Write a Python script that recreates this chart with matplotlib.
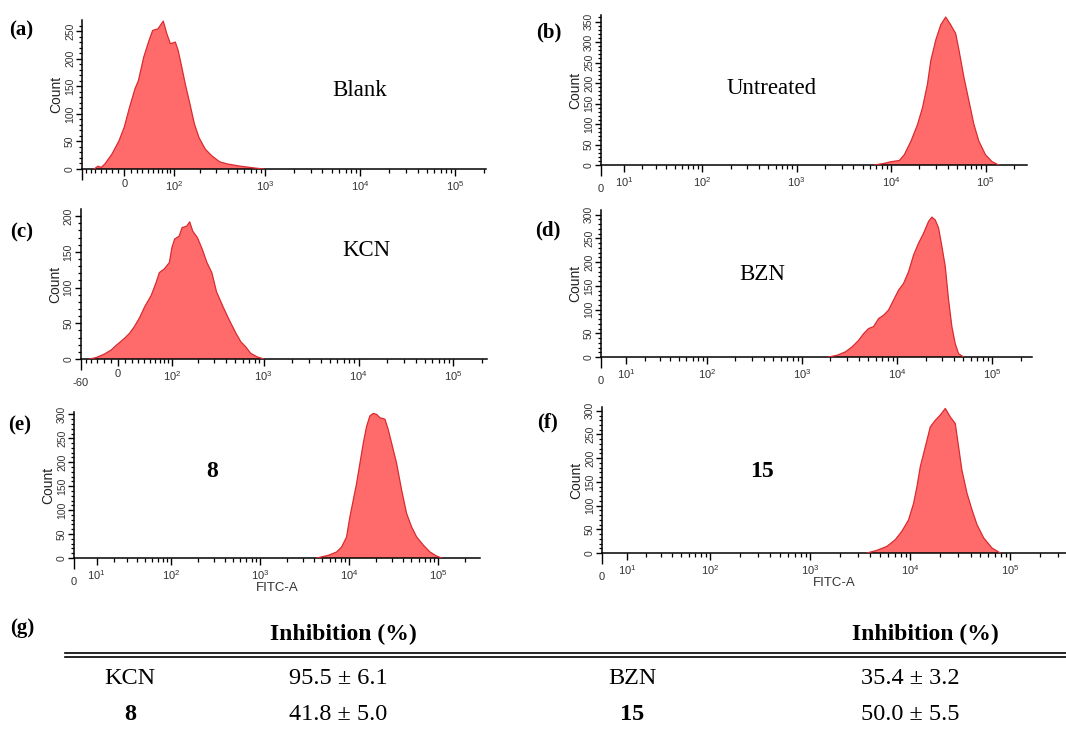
import numpy as np
import matplotlib
matplotlib.use("Agg")
import matplotlib.pyplot as plt

plt.rcParams['font.family'] = ['Liberation Sans', 'DejaVu Sans']
plt.rcParams['mathtext.fontset'] = 'custom'
plt.rcParams['mathtext.rm'] = 'Liberation Sans'
plt.rcParams['mathtext.it'] = 'Liberation Sans'

W, H = 1066, 734
FILL = '#FF6B6B'
EDGE = '#D92B30'
SERIF = ['Liberation Serif', 'DejaVu Serif']

# ---- histogram outlines (FITC-A value, count) ----
blank_x = [-52.5, -45, -38.7, -32.3, -20, -8.5, 0, 8.5, 17.2, 23, 32.3, 42, 49, 60, 72,
           80.7, 90, 104, 112.6, 122, 137, 155, 174, 196, 230, 270, 329, 401, 551, 757, 962]
blank_y = [0, 5, 3, 9, 27, 51, 76, 112, 145, 160, 203, 233, 251, 254, 268,
           245, 227, 230, 215, 191, 154, 118, 82, 57, 36, 24, 13, 9, 5, 2, 0]

untreated_x = [6630, 8480, 10000, 12240, 13810, 16240, 19090, 21540, 24320, 26370, 29760, 33600,
               37900, 42800, 48300, 52400, 59100, 66800, 75400, 85100, 100000, 117500, 138000]
untreated_y = [0, 4, 8, 11, 25, 58, 99, 140, 198, 255, 305, 342,
               361, 342, 321, 280, 214, 156, 99, 58, 25, 8, 0]

kcn_x = [-43, -32, -19, -9.5, -2.4, 2.4, 9.5, 16.8, 24.4, 32.2, 40.5, 52.3, 62, 69, 80, 93, 100, 108,
         122, 132, 149, 161, 174, 196, 221, 249, 281, 316, 371, 434, 509, 574, 646, 728, 853, 1000]
kcn_y = [0, 2, 7, 12.5, 19, 23, 29, 36, 46, 58, 73, 89, 107, 121, 126, 135, 156, 168,
         172, 184, 186, 192, 179, 170, 154, 135, 121, 94, 73, 54, 36, 24, 17, 8, 3, 0]

bzn_x = [1909, 2336, 2858, 3360, 3950, 4457, 5033, 5680, 6412, 7238, 8170, 9223, 10410, 11750, 13270,
         14980, 16900, 19090, 21540, 23360, 25320, 27460, 29760, 32270, 35000, 37900, 41100, 44570, 50330]
bzn_y = [0, 3.5, 10.6, 21, 35, 49, 60, 64, 81, 88, 99, 120, 141, 155, 180,
         215, 240, 261, 286, 295, 289, 272, 233, 191, 120, 64, 28, 7, 0]

c8_x = [4310, 5820, 7220, 8210, 9330, 10170, 11090, 12090, 13180, 14370, 15660, 17070, 18600, 20280,
        22110, 25160, 27420, 29900, 34000, 38730, 44100, 50100, 57100, 67800, 80600, 95800, 109000]
c8_y = [0, 5.6, 12.6, 23, 44, 86, 121, 156, 198, 240, 275, 297, 302, 300,
        293, 290, 268, 240, 198, 142, 93, 65, 44, 27, 12.6, 4, 0]

c15_x = [3690, 4640, 5840, 7080, 8250, 9620, 10800, 11660, 12590, 14130, 15850, 17780, 19950, 22390,
         25120, 28180, 30400, 32800, 36900, 41400, 46400, 54100, 65600, 79400]
c15_y = [0, 5.6, 14, 28, 46, 70, 105, 140, 182, 224, 266, 280, 291, 305,
         287, 273, 224, 175, 126, 91, 60, 32, 10.5, 0]

# ---- table (g) ----
row_names = [('KCN', 'normal'), ('8', 'bold')]
row_vals = ['95.5 ± 6.1', '41.8 ± 5.0']
row_names2 = [('BZN', 'normal'), ('15', 'bold')]
row_vals2 = ['35.4 ± 3.2', '50.0 ± 5.5']

fig = plt.figure(figsize=(W / 100, H / 100), dpi=100)


def rect(l, r, base, top):
    return [l / W, 1 - base / H, (r - l) / W, (base - top) / H]


def biex(c):
    return (lambda v: np.arcsinh(np.asarray(v, float) / c),
            lambda u: c * np.sinh(np.asarray(u, float)))


def sup(n):
    return r'$\mathregular{10^{%d}}$' % n


def panel(box, xs, ys, c, xlim, ytop, neg_label=''):
    ax = fig.add_axes(rect(*box))
    ax.set_xscale('function', functions=biex(c))
    ax.fill_between(xs, ys, 0, facecolor=FILL, edgecolor='none', zorder=2)
    ax.plot(xs, ys, color=EDGE, lw=0.9, zorder=3)
    ax.set_xlim(*xlim)
    ax.set_ylim(0, ytop)
    for s in ['top', 'right']:
        ax.spines[s].set_visible(False)
    for s in ['left', 'bottom']:
        ax.spines[s].set_linewidth(1.1)

    xmin, xmax = xlim
    if xmin < 0:
        major = [xmin, 0, 1e2, 1e3, 1e4, 1e5]
        labels = [neg_label, '0'] + [sup(d) for d in range(2, 6)]
        minor = list(range(-10, int(xmin), -10)) + list(range(10, 100, 10))
        dec = range(2, 6)
    else:
        major = [0, 10, 1e2, 1e3, 1e4, 1e5]
        labels = ['0'] + [sup(d) for d in range(1, 6)]
        minor = []
        dec = range(1, 6)
    for d in dec:
        minor += [k * 10 ** d for k in range(2, 10)]
    minor = [m for m in minor if xmin < m < xmax]
    ax.set_xticks(major)
    ax.set_xticklabels(labels)
    ax.set_xticks(minor, minor=True)
    ax.tick_params(axis='x', which='major', length=5, width=1, pad=2,
                   labelsize=8, labelcolor='#333333')
    ax.tick_params(axis='x', which='minor', length=3, width=0.9)
    t0 = ax.xaxis.get_major_ticks()[0]
    t0.set_pad(9)
    t0.tick1line.set_markersize(8)

    ax.set_yticks(np.arange(0, ytop + 1, 50))
    ax.set_yticks(np.arange(0, ytop, 10), minor=True)
    ax.tick_params(axis='y', which='major', length=4, width=1, pad=1,
                   labelsize=7.5, labelrotation=90, labelcolor='#333333')
    ax.tick_params(axis='y', which='minor', length=2.5, width=0.9)
    for lab in ax.get_yticklabels():
        lab.set_va('center')
    ax.set_ylabel('Count', fontsize=10, labelpad=1, color='#222222')
    return ax


panel((82, 486, 169, 20), blank_x, blank_y, 66, (-80, 2.1e5), 270)
panel((601, 1027, 165, 15), untreated_x, untreated_y, 17, (0, 2.75e5), 366)
panel((80.5, 487, 359, 209), kcn_x, kcn_y, 58, (-60, 2.26e5), 210, '-60')
panel((601, 1032, 357, 210), bzn_x, bzn_y, 15.4, (0, 2.64e5), 310)
ax_e = panel((74, 480, 558, 412), c8_x, c8_y, 16.2, (0, 2.94e5), 305)
ax_f = panel((602, 1066, 553, 407), c15_x, c15_y, 16.6, (0, 3.6e5), 308)
for ax in (ax_e, ax_f):
    ax.set_xlabel('FITC-A', fontsize=9.5, labelpad=-4, color='#333333')


def ftext(x, y, s, **kw):
    fig.text(x / W, 1 - y / H, s, ha='center', va='center', family=SERIF, **kw)


for lab, (x, y) in zip('abcdefg', [(21, 30), (549, 32), (22, 232), (548, 230),
                                   (20, 425), (548, 422), (22, 628)]):
    ftext(x, y, '(%s)' % lab, fontsize=15, weight='bold')

ftext(360, 90, 'Blank', fontsize=16.5)
ftext(772, 88, 'Untreated', fontsize=16.5)
ftext(366, 250, 'KCN', fontsize=16.5)
ftext(762, 274, 'BZN', fontsize=16.5)
ftext(212, 472, '8', fontsize=17, weight='bold')
ftext(762, 472, '15', fontsize=17, weight='bold')

# table
ftext(343, 634, 'Inhibition (%)', fontsize=17, weight='bold')
ftext(925, 634, 'Inhibition (%)', fontsize=17, weight='bold')
for yy in (652.5, 656.5):
    fig.add_artist(plt.Line2D([65 / W, 1.0], [1 - yy / H] * 2, color='black', lw=1.2))
for i, yy in enumerate([679, 714]):
    ftext(130, yy, row_names[i][0], fontsize=17.5, weight=row_names[i][1])
    ftext(338, yy, row_vals[i], fontsize=17.5)
    ftext(632, yy, row_names2[i][0], fontsize=17.5, weight=row_names2[i][1])
    ftext(910, yy, row_vals2[i], fontsize=17.5)

fig.savefig('out.png', dpi=100)
